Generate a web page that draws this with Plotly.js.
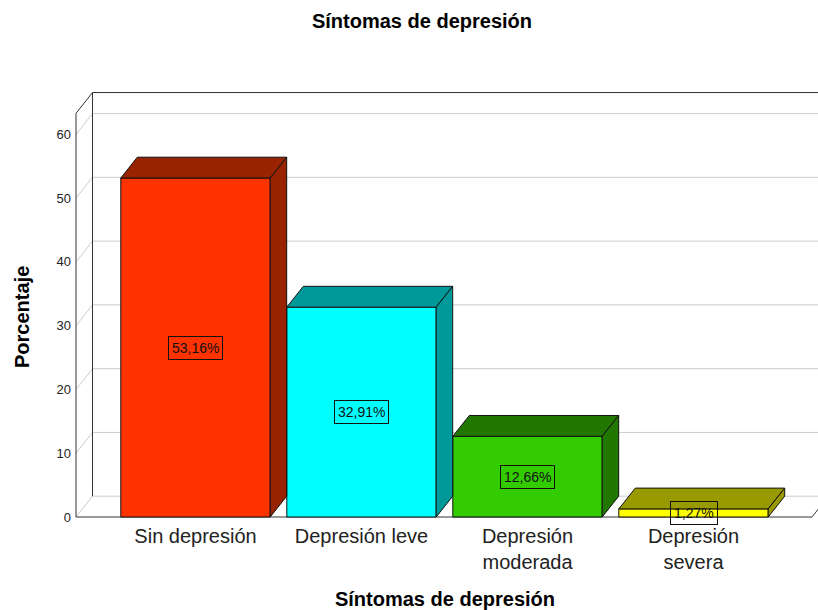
<!DOCTYPE html>
<html>
<head>
<meta charset="utf-8">
<script src="https://cdn.plot.ly/plotly-3.0.1.min.js"></script>
<style>html,body{margin:0;padding:0;background:#fff}</style>
</head>
<body>
<div id="chart" style="width:818px;height:610px"></div>
<script>
// ---- data ----
const categories = ['Sin depresión', 'Depresión leve', 'Depresión<br>moderada', 'Depresión<br>severa'];
const percentages = [53.16, 32.91, 12.66, 1.27];
const valueLabels = ['53,16%', '32,91%', '12,66%', '1,27%'];
const yTickValues = [0, 10, 20, 30, 40, 50, 60];
const yTickLabels = ['0', '10', '20', '30', '40', '50', '60'];

// ---- style ----
const frontColors = ['#FF3300', '#00FFFF', '#33CC00', '#FFFF00'];
const sideColors = ['#992200', '#009999', '#227700', '#999900'];
const gridColor = '#cccccc';
const frameColor = '#333333';

// ---- geometry (pixels -> data units) ----
const W = 818, H = 610;
const cx0 = 195.5, pxX = 166;          // pixel of category 0, pixels per category
const y0px = 517, pxY = 6.377;         // pixel of value 0, pixels per unit
const mL = 72, mR = 0, mT = 88, mB = 90;
const xRange = [(mL - cx0) / pxX, (W - mR - cx0) / pxX];
const yRange = [-(H - mB - y0px) / pxY, (y0px - mT) / pxY];
const DX = 16.5 / pxX, DY = 20.8 / pxY;  // 3D depth offset
const xL = (76 - cx0) / pxX;             // front-left axis position
const xFR = (812 - cx0) / pxX;           // front-right floor end
const xFar = xRange[1] + 1;
const axisMax = 63.3;
const barW = 0.9;

const shapes = [];
function line(x0, y0, x1, y1, color, layer) {
  shapes.push({type: 'line', xref: 'x', yref: 'y', x0, y0, x1, y1,
    line: {color, width: 1}, layer: layer || 'below'});
}
// back wall + left wall gridlines
yTickValues.forEach(v => {
  line(xL, v, xL + DX, v + DY, gridColor);
  line(xL + DX, v + DY, xFar, v + DY, gridColor);
});
// frame
line(xL, 0, xL, axisMax, frameColor);
line(xL, axisMax, xL + DX, axisMax + DY, frameColor);
line(xL + DX, DY, xL + DX, axisMax + DY, frameColor);
line(xL + DX, axisMax + DY, xFar, axisMax + DY, frameColor);
line(xL, 0, xFR, 0, frameColor);
line(xFR, 0, xFR + DX, DY, frameColor);

// 3D faces of bars
percentages.forEach((v, i) => {
  const a = i - barW / 2, b = i + barW / 2;
  shapes.push({type: 'path', xref: 'x', yref: 'y', layer: 'above',
    path: `M${a},${v} L${b},${v} L${b + DX},${v + DY} L${a + DX},${v + DY} Z`,
    fillcolor: sideColors[i], line: {color: '#111', width: 1}});
  shapes.push({type: 'path', xref: 'x', yref: 'y', layer: 'above',
    path: `M${b},0 L${b},${v} L${b + DX},${v + DY} L${b + DX},${DY} Z`,
    fillcolor: sideColors[i], line: {color: '#111', width: 1}});
});

const annotations = percentages.map((v, i) => ({
  x: i, y: v / 2, xref: 'x', yref: 'y', text: valueLabels[i], showarrow: false,
  font: {family: 'Liberation Sans, Arial, sans-serif', size: 14, color: '#111'},
  bordercolor: '#111', borderwidth: 1, borderpad: 3, bgcolor: 'rgba(0,0,0,0)'
}));
annotations.push({
  xref: 'paper', yref: 'paper', x: (22 - mL) / (W - mL - mR), y: (H - mB - 317) / (H - mT - mB),
  xanchor: 'center', yanchor: 'middle', text: 'Porcentaje', textangle: -90, showarrow: false,
  font: {family: 'Liberation Sans, Arial, sans-serif', size: 20, color: '#000', weight: 'bold'}
});

const trace = {
  type: 'bar', x: [0, 1, 2, 3], y: percentages, width: barW,
  marker: {color: frontColors, line: {color: '#111', width: 1}},
  hoverinfo: 'skip', cliponaxis: false
};

const layout = {
  width: W, height: H,
  margin: {l: mL, r: mR, t: mT, b: mB},
  paper_bgcolor: '#fff', plot_bgcolor: 'rgba(0,0,0,0)',
  font: {family: 'Liberation Sans, Arial, sans-serif', color: '#222'},
  showlegend: false,
  title: {text: '<b>Síntomas de depresión</b>', x: 422 / W, xanchor: 'center',
    y: 1 - 21 / H, yanchor: 'middle', yref: 'container',
    font: {size: 20, color: '#000'}},
  xaxis: {range: xRange, tickvals: [0, 1, 2, 3], ticktext: categories,
    showgrid: false, zeroline: false, showline: false, ticks: '',
    ticklabelstandoff: 2,
    tickfont: {size: 20, color: '#222'}, fixedrange: true,
    title: {text: '<b>Síntomas de depresión</b>', font: {size: 20, color: '#000'}, standoff: 24}},
  yaxis: {range: yRange, tickvals: yTickValues, ticktext: yTickLabels,
    showgrid: false, zeroline: false, showline: false, ticks: '',
    tickfont: {size: 13, color: '#222'}, fixedrange: true},
  shapes, annotations
};

Plotly.newPlot('chart', [trace], layout, {staticPlot: true});
</script>
</body>
</html>
